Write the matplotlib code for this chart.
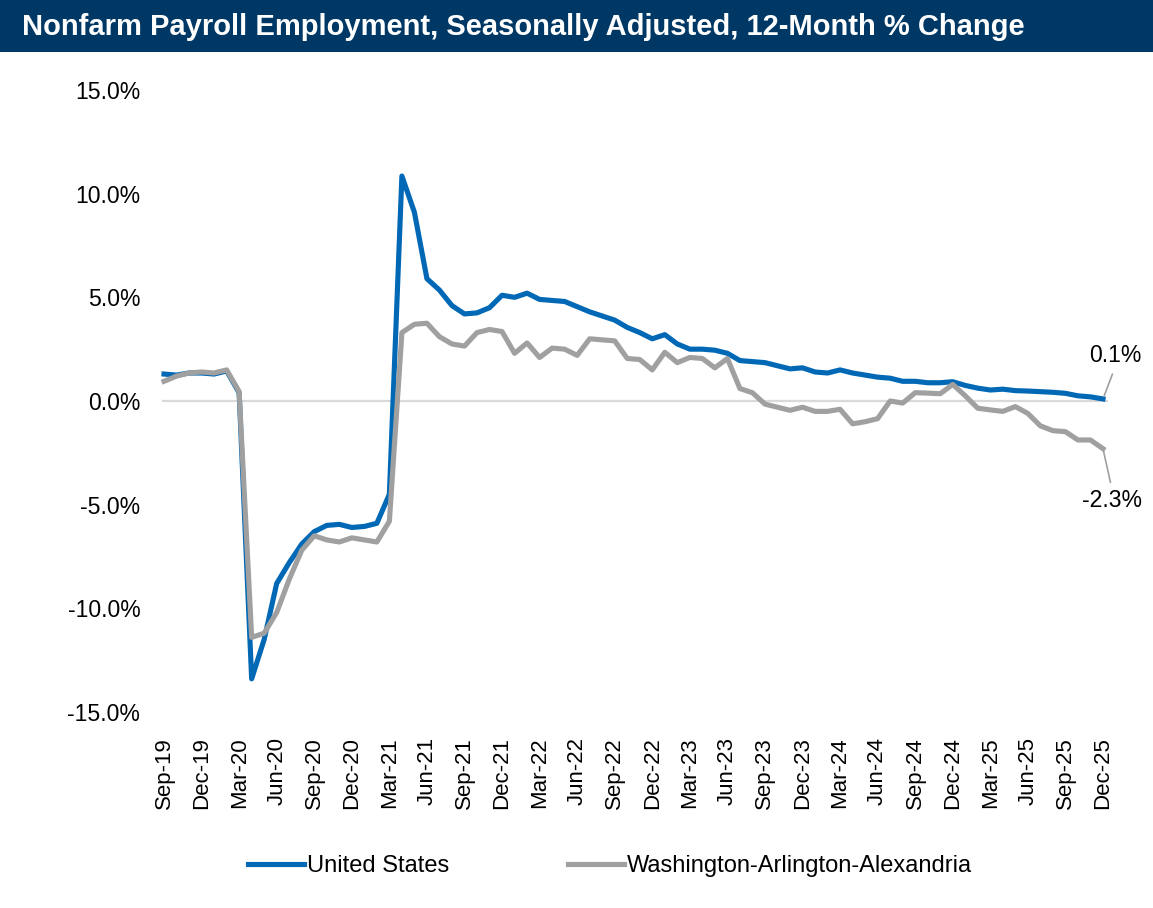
import matplotlib as mpl
import matplotlib.pyplot as plt

mpl.rcParams.update({
    'font.family': ['Liberation Sans', 'DejaVu Sans'],
    'font.size': 16,
})

# monthly, Sep-19 .. Dec-25
months = ['Sep-19', 'Oct-19', 'Nov-19', 'Dec-19', 'Jan-20', 'Feb-20', 'Mar-20', 'Apr-20', 'May-20', 'Jun-20',
          'Jul-20', 'Aug-20', 'Sep-20', 'Oct-20', 'Nov-20', 'Dec-20', 'Jan-21', 'Feb-21', 'Mar-21', 'Apr-21',
          'May-21', 'Jun-21', 'Jul-21', 'Aug-21', 'Sep-21', 'Oct-21', 'Nov-21', 'Dec-21', 'Jan-22', 'Feb-22',
          'Mar-22', 'Apr-22', 'May-22', 'Jun-22', 'Jul-22', 'Aug-22', 'Sep-22', 'Oct-22', 'Nov-22', 'Dec-22',
          'Jan-23', 'Feb-23', 'Mar-23', 'Apr-23', 'May-23', 'Jun-23', 'Jul-23', 'Aug-23', 'Sep-23', 'Oct-23',
          'Nov-23', 'Dec-23', 'Jan-24', 'Feb-24', 'Mar-24', 'Apr-24', 'May-24', 'Jun-24', 'Jul-24', 'Aug-24',
          'Sep-24', 'Oct-24', 'Nov-24', 'Dec-24', 'Jan-25', 'Feb-25', 'Mar-25', 'Apr-25', 'May-25', 'Jun-25',
          'Jul-25', 'Aug-25', 'Sep-25', 'Oct-25', 'Nov-25', 'Dec-25']
us = [1.3, 1.25, 1.35, 1.35, 1.3, 1.45, 0.4, -13.4, -11.5, -8.8,
      -7.8, -6.9, -6.3, -6.0, -5.95, -6.1, -6.05, -5.9, -4.5, 10.85,
      9.1, 5.9, 5.35, 4.6, 4.2, 4.25, 4.5, 5.1, 5.0, 5.2,
      4.9, 4.85, 4.8, 4.55, 4.3, 4.1, 3.9, 3.55, 3.3, 3.0,
      3.2, 2.75, 2.5, 2.5, 2.45, 2.3, 1.95, 1.9, 1.85, 1.7,
      1.55, 1.6, 1.4, 1.35, 1.5, 1.35, 1.25, 1.15, 1.1, 0.95,
      0.95, 0.88, 0.88, 0.93, 0.75, 0.62, 0.53, 0.57, 0.5, 0.48,
      0.45, 0.42, 0.37, 0.25, 0.2, 0.1]
dc = [0.95, 1.2, 1.35, 1.4, 1.35, 1.5, 0.45, -11.4, -11.2, -10.2,
      -8.6, -7.2, -6.5, -6.7, -6.8, -6.6, -6.7, -6.8, -5.8, 3.3,
      3.7, 3.75, 3.1, 2.75, 2.65, 3.3, 3.45, 3.35, 2.3, 2.8,
      2.1, 2.55, 2.5, 2.2, 3.0, 2.95, 2.9, 2.05, 2.0, 1.5,
      2.35, 1.85, 2.1, 2.05, 1.6, 2.05, 0.6, 0.4, -0.15, -0.3,
      -0.45, -0.3, -0.5, -0.5, -0.4, -1.1, -1.0, -0.85, 0.0, -0.1,
      0.4, 0.38, 0.35, 0.8, 0.25, -0.35, -0.43, -0.5, -0.27, -0.6,
      -1.2, -1.43, -1.48, -1.88, -1.88, -2.3]
yticks = [-15, -10, -5, 0, 5, 10, 15]

C_US, C_DC, C_HDR = '#0068B5', '#A0A0A0', '#003865'
W, H = 1153, 908
x = list(range(len(months)))

fig = plt.figure(figsize=(W / 100, H / 100), dpi=100)
# title banner
fig.patches.append(plt.Rectangle((0, 1 - 52 / H), 1, 52 / H, transform=fig.transFigure,
                                 facecolor=C_HDR, edgecolor='none', zorder=0))
fig.text(22 / W, 1 - 27 / H, 'Nonfarm Payroll Employment, Seasonally Adjusted, 12-Month % Change',
         color='white', fontsize=21, fontweight='bold', va='center', ha='left')

ax = fig.add_axes([150 / W, 1 - 712 / H, (1115 - 150) / W, (712 - 90) / H])
ax.hlines(0, -0.15, len(x) - 0.6, color='#D9D9D9', lw=1.6, zorder=1)
ax.plot(x, us, color=C_US, lw=3.7, solid_joinstyle='round', zorder=3, label='United States')
ax.plot(x, dc, color=C_DC, lw=3.7, solid_joinstyle='round', zorder=4, label='Washington-Arlington-Alexandria')

ax.set_ylim(-15, 15)
ax.set_xlim(-1.12, len(x) - 1 + 0.96)
ax.set_yticks(yticks)
ax.set_yticklabels([f'{v:.1f}%' for v in yticks], fontsize=16.6)
ax.set_xticks(x[::3])
ax.set_xticklabels(months[::3], rotation=90)
ax.tick_params(axis='y', length=0, pad=7)
ax.tick_params(axis='x', length=0, pad=18)
for s in ax.spines.values():
    s.set_visible(False)

ax.annotate(f'{us[-1]:.1f}%', (x[-1], us[-1]), xytext=(12, 43), textcoords='offset pixels',
            ha='center', va='center', fontsize=16.6,
            arrowprops=dict(arrowstyle='-', color='#A0A0A0', lw=1.2, relpos=(0.5, 0), shrinkA=3, shrinkB=2))
ax.annotate(f'{dc[-1]:.1f}%', (x[-1], dc[-1]), xytext=(9, -52), textcoords='offset pixels',
            ha='center', va='center', fontsize=16.6,
            arrowprops=dict(arrowstyle='-', color='#A0A0A0', lw=1.2, relpos=(0.5, 1), shrinkA=3, shrinkB=2))

fig.legend(loc='center', bbox_to_anchor=(610 / W, 1 - 866 / H), ncol=2, frameon=False, fontsize=17,
           handlelength=2.4, handletextpad=0.13, columnspacing=5.0)

fig.savefig('out.png', dpi=100, facecolor='white')
